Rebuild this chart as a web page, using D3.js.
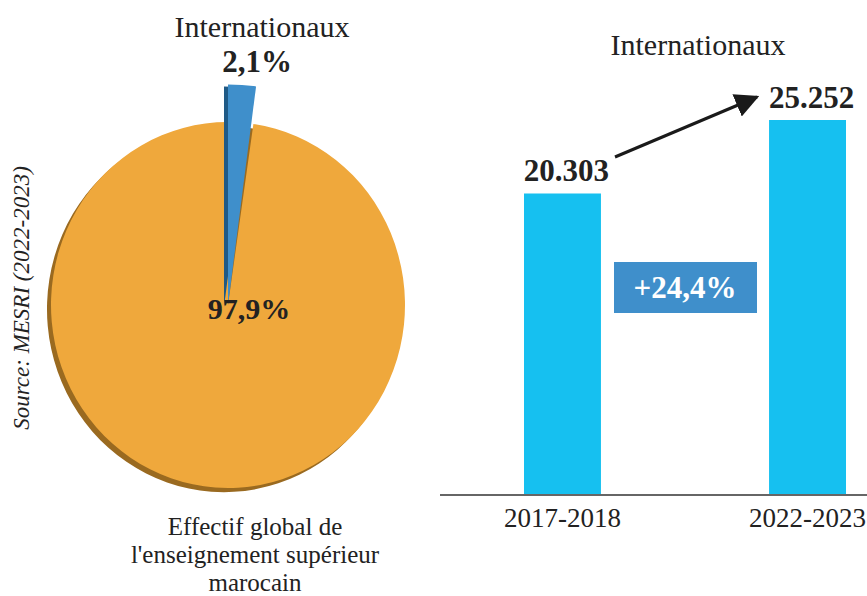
<!DOCTYPE html>
<html>
<head>
<meta charset="utf-8">
<script src="https://cdn.jsdelivr.net/npm/d3@7"></script>
<style>
  html, body { margin: 0; padding: 0; background: #fff; }
  svg { display: block; }
  text { font-family: "Liberation Serif", "Times New Roman", serif; fill: #222; }
</style>
</head>
<body>
<svg id="chart" width="867" height="596"></svg>
<script>
// ---- data ----
const pieCategories = ["Internationaux", "Effectif global de l'enseignement supérieur marocain"];
const pieValues = [2.1, 97.9];
const pieLabels = ["2,1%", "97,9%"];
const pieTitleLines = ["Effectif global de", "l'enseignement supérieur", "marocain"];
const barTitle = "Internationaux";
const barCategories = ["2017-2018", "2022-2023"];
const barValues = [20303, 25252];
const barLabels = ["20.303", "25.252"];
const growthLabel = "+24,4%";
const sourceText = "Source: MESRI (2022-2023)";

const svg = d3.select("#chart");

// ---- pie ----
const cx = 228, cy = 305, R = 177, yStretch = 1.034;
const pie = d3.pie().sort(null).value(d => d)(pieValues);
const gap = 0.012;
const pieG = svg.append("g").attr("transform", `translate(${cx},${cy}) scale(1,${yStretch})`);

const orangeArc = d3.arc().innerRadius(0).outerRadius(R)
  .startAngle(pie[1].startAngle + gap).endAngle(pie[1].endAngle);
const blueArc = d3.arc().innerRadius(0).outerRadius(R * 1.205)
  .startAngle(pie[0].startAngle).endAngle(pie[0].endAngle);

// 3D shadow of main slice
pieG.append("path").attr("d", orangeArc()).attr("fill", "#9a6a20")
  .attr("transform", "translate(-4,4)");
pieG.append("path").attr("d", orangeArc()).attr("fill", "#efa83c");
// side of exploded slice
pieG.append("path").attr("d", blueArc()).attr("fill", "#1f5a86")
  .attr("transform", "translate(-4,2)");
pieG.append("path").attr("d", blueArc()).attr("fill", "#3f8fcb");

// pie labels
svg.append("text").attr("x", 262).attr("y", 37).attr("text-anchor", "middle")
  .attr("font-size", 30).text(pieCategories[0]);
svg.append("text").attr("x", 257).attr("y", 72).attr("text-anchor", "middle")
  .attr("font-size", 31).attr("font-weight", "bold").text(pieLabels[0]);
svg.append("text").attr("x", 249).attr("y", 319).attr("text-anchor", "middle")
  .attr("font-size", 30).attr("font-weight", "bold").text(pieLabels[1]);
svg.append("text").attr("text-anchor", "middle").attr("font-size", 25)
  .selectAll("tspan").data(pieTitleLines).join("tspan")
  .attr("x", 255).attr("y", (d, i) => 535 + i * 28).text(d => d);

// source
svg.append("text").attr("transform", "translate(29,298) rotate(-90)")
  .attr("text-anchor", "middle").attr("font-size", 23).attr("font-style", "italic")
  .attr("fill", "#333").text(sourceText);

// ---- bars ----
const baseY = 495;
const x = d3.scaleBand().domain(barCategories).range([524, 846]).paddingInner(0.686).paddingOuter(0);
const y = d3.scaleLinear().domain([0, d3.max(barValues)]).range([baseY, 120]);

svg.append("text").attr("x", 698).attr("y", 55).attr("text-anchor", "middle")
  .attr("font-size", 30).text(barTitle);

svg.selectAll("rect.bar").data(barValues).join("rect").attr("class", "bar")
  .attr("x", (d, i) => x(barCategories[i]))
  .attr("y", d => y(d))
  .attr("width", x.bandwidth())
  .attr("height", d => baseY - y(d))
  .attr("fill", "#16c0f0");

svg.selectAll("text.val").data(barLabels).join("text").attr("class", "val")
  .attr("x", (d, i) => x(barCategories[i]) + x.bandwidth() / 2 + 4)
  .attr("y", (d, i) => y(barValues[i]) - 12)
  .attr("text-anchor", "middle").attr("font-size", 31).attr("font-weight", "bold")
  .text(d => d);

// axis
const axis = svg.append("g").attr("transform", `translate(0,${baseY})`)
  .call(d3.axisBottom(x).tickSize(0).tickPadding(14));
axis.select(".domain").remove();
axis.selectAll("text").attr("font-size", 27)
  .attr("font-family", "Liberation Serif, serif").attr("fill", "#222").attr("dy", "0.71em")
  .attr("y", 13);
svg.append("line").attr("x1", 440).attr("x2", 867).attr("y1", baseY).attr("y2", baseY)
  .attr("stroke", "#666").attr("stroke-width", 2);

// arrow
svg.append("defs").append("marker").attr("id", "ah")
  .attr("viewBox", "0 0 10 10").attr("refX", 9).attr("refY", 5)
  .attr("markerWidth", 8).attr("markerHeight", 8).attr("markerUnits", "strokeWidth")
  .attr("orient", "auto")
  .append("path").attr("d", "M0,0 L10,5 L0,10 z").attr("fill", "#1a1a1a");
svg.append("line").attr("x1", 615).attr("y1", 157).attr("x2", 757).attr("y2", 97)
  .attr("stroke", "#1a1a1a").attr("stroke-width", 3).attr("marker-end", "url(#ah)");

// growth box
svg.append("rect").attr("x", 614).attr("y", 262).attr("width", 143).attr("height", 51)
  .attr("fill", "#3f8fcb");
svg.append("text").attr("x", 685).attr("y", 298).attr("text-anchor", "middle")
  .attr("font-size", 31).attr("font-weight", "bold").style("fill", "#fff").text(growthLabel);
</script>
</body>
</html>
